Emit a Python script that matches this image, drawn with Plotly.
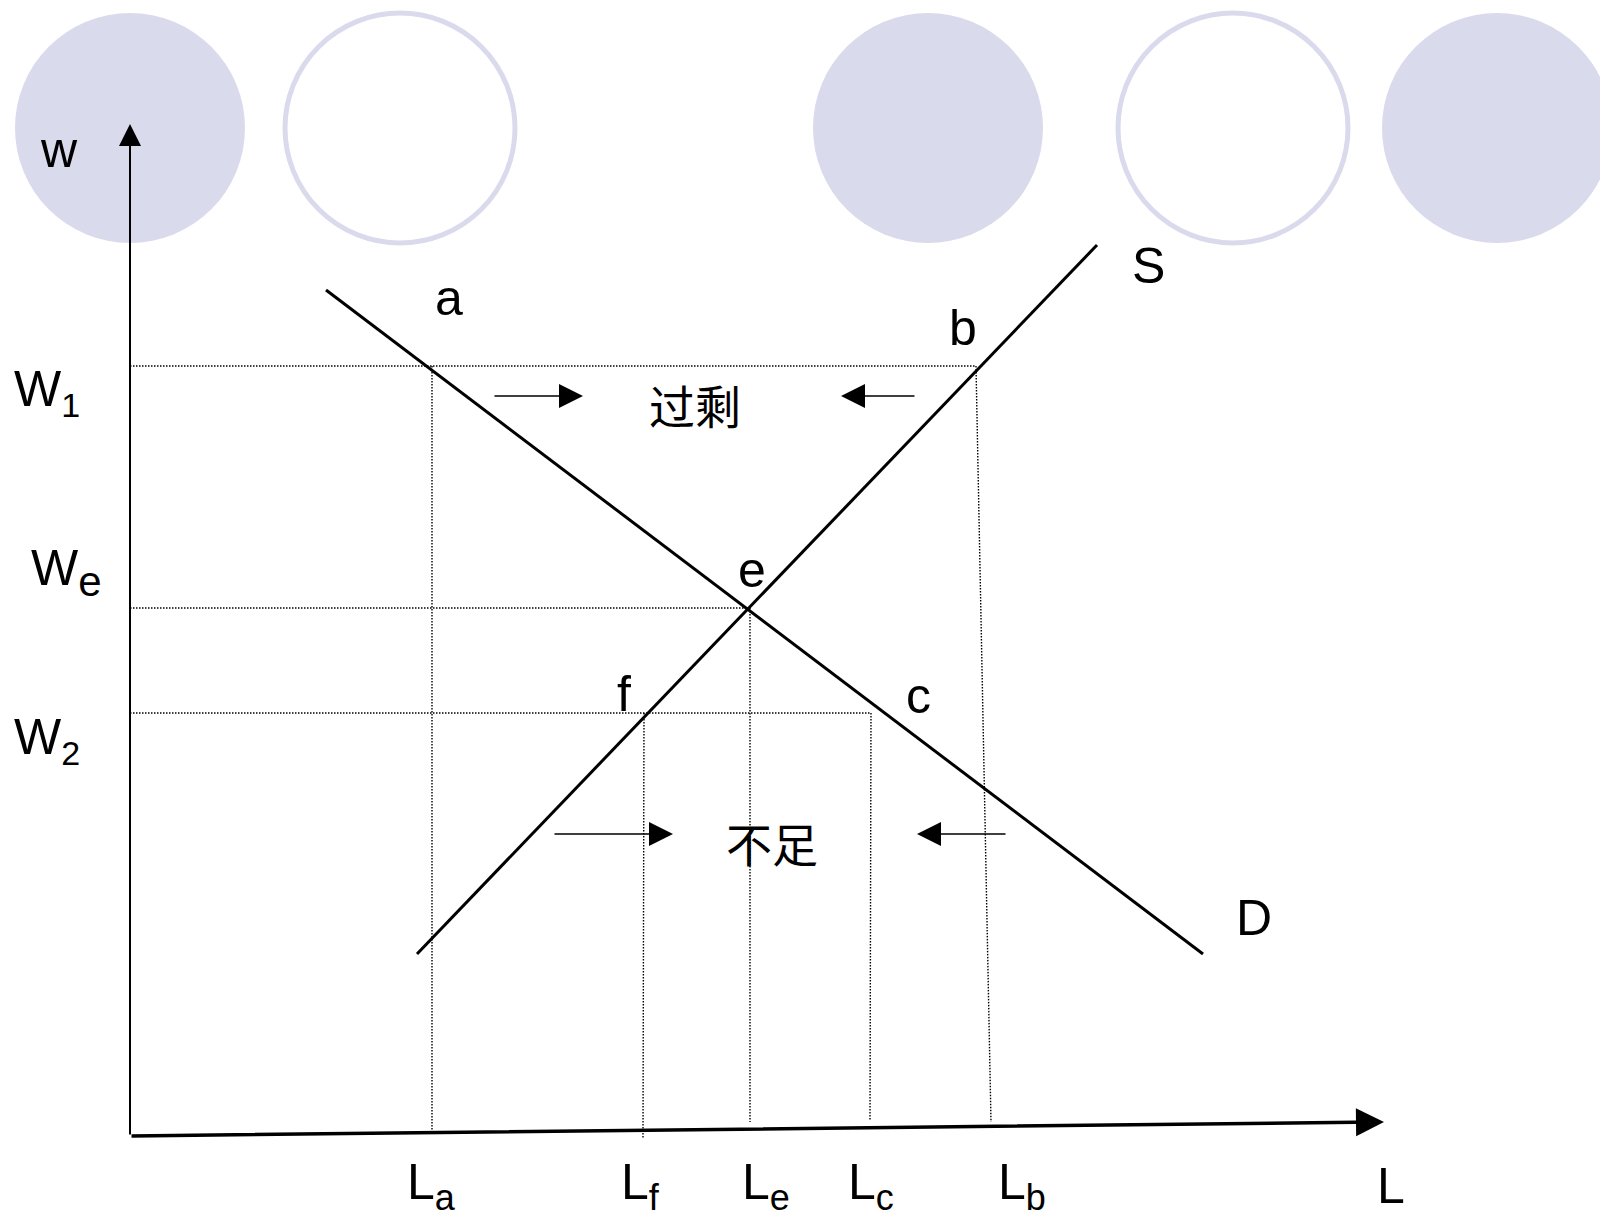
import plotly.graph_objects as go

W, H = 1608, 1224
PAGE_PAD = 8  # default body margin of the html page

# decorative circles across the top: (centre x, centre y, filled?)
circle_x = [130, 400, 928, 1233, 1497]
circle_y = [128, 128, 128, 128, 128]
circle_filled = [True, False, True, False, True]
circle_r = 115

# curves (pixel-space schematic, y grows downward)
demand_L = [326, 1203]
demand_w = [290, 954]
supply_L = [417, 1097]
supply_w = [954, 245]

# wage levels and the quantities
wage_names = ["W", "W", "W"]
wage_subs = ["1", "e", "2"]
wage_sub_size = [34, 42, 34]
wage_y = [366, 608, 713]
wage_end_x = [976, 750, 871]
wage_label_x = [13, 30, 13]
wage_label_y = [392, 572, 740]

qty_subs = ["a", "f", "e", "c", "b"]
qty_top_x = [432, 644, 750, 871, 976]
qty_top_y = [366, 713, 608, 713, 366]
qty_bot_x = [432, 643, 750, 870, 991]
qty_bot_y = [1134, 1138, 1122, 1120, 1122]
qty_label_x = [406, 620, 741, 847, 997]

# point labels
point_names = ["a", "b", "e", "f", "c", "S", "D"]
point_x = [449, 963, 752, 624, 918, 1148, 1254]
point_y = [298, 328, 570, 694, 696, 266, 918]

# axes (origin, ends)
origin = (130, 1136)
y_axis_tip = (130, 124)
x_axis_tip = (1384, 1122)

# small direction arrows: (tail x, tip x, y)
arrows = [(493, 583, 396), (916, 841, 396), (553, 673, 834), (1007, 917, 834)]

circle_col = "#DADAED"
font_lat = "Liberation Sans, Arial, sans-serif"
font_cjk = "Noto Sans CJK SC, sans-serif"

fig = go.Figure()

shapes = []
for cx, cy, filled in zip(circle_x, circle_y, circle_filled):
    shapes.append(dict(
        type="circle", xref="x", yref="y", layer="below",
        x0=cx - circle_r, x1=cx + circle_r, y0=cy - circle_r, y1=cy + circle_r,
        fillcolor=circle_col if filled else "white",
        line=dict(color=circle_col, width=0 if filled else 5),
    ))

dotted = dict(color="black", width=1.4, dash="1.5px,1.5px")

# dotted guide lines
for yv, xe in zip(wage_y, wage_end_x):
    fig.add_trace(go.Scatter(x=[origin[0], xe], y=[yv, yv], mode="lines",
                             line=dotted, hoverinfo="skip"))
for x0, y0, x1, y1 in zip(qty_top_x, qty_top_y, qty_bot_x, qty_bot_y):
    fig.add_trace(go.Scatter(x=[x0, x1], y=[y0, y1], mode="lines",
                             line=dotted, hoverinfo="skip"))

# demand and supply
fig.add_trace(go.Scatter(x=demand_L, y=demand_w, mode="lines",
                         line=dict(color="black", width=3), hoverinfo="skip"))
fig.add_trace(go.Scatter(x=supply_L, y=supply_w, mode="lines",
                         line=dict(color="black", width=3), hoverinfo="skip"))

annotations = []
# axes with arrowheads
annotations.append(dict(x=y_axis_tip[0], y=y_axis_tip[1], ax=origin[0], ay=origin[1],
                        xref="x", yref="y", axref="x", ayref="y", text="",
                        showarrow=True, arrowhead=2, arrowsize=2.2, arrowwidth=2,
                        arrowcolor="black", standoff=0))
annotations.append(dict(x=x_axis_tip[0], y=x_axis_tip[1], ax=origin[0], ay=origin[1],
                        xref="x", yref="y", axref="x", ayref="y", text="",
                        showarrow=True, arrowhead=2, arrowsize=1.6, arrowwidth=3.5,
                        arrowcolor="black", standoff=0))
for tail, tip, yv in arrows:
    annotations.append(dict(x=tip, y=yv, ax=tail, ay=yv,
                            xref="x", yref="y", axref="x", ayref="y", text="",
                            showarrow=True, arrowhead=2, arrowsize=3, arrowwidth=1.6,
                            arrowcolor="black", standoff=0))

def label(txt, x, y, size=50, family=font_lat, xanchor="center"):
    annotations.append(dict(x=x, y=y, xref="x", yref="y", text=txt, showarrow=False,
                            font=dict(family=family, size=size, color="black"),
                            xanchor=xanchor, yanchor="middle", borderpad=0))

def sub(base, s, size):
    return f"{base}<sub><span style='font-size:{size}px'>{s}</span></sub>"

label("w", 59, 150)
label("L", 1376, 1186, xanchor="left")
for n, s, ss, x, y in zip(wage_names, wage_subs, wage_sub_size, wage_label_x, wage_label_y):
    label(sub(n, s, ss), x, y, xanchor="left")
for s, x in zip(qty_subs, qty_label_x):
    label(sub("L", s, 36), x, 1186, xanchor="left")
for n, x, y in zip(point_names, point_x, point_y):
    label(n, x, y)
label("过剩", 695, 404, size=46, family=font_cjk)
label("不足", 772, 842, size=46, family=font_cjk)

# the page adds an 8px body margin, so shrink the figure and shift the ranges
fig.update_layout(
    width=W - 2 * PAGE_PAD, height=H - 2 * PAGE_PAD,
    margin=dict(l=0, r=0, t=0, b=0),
    paper_bgcolor="white", plot_bgcolor="white",
    showlegend=False,
    xaxis=dict(range=[PAGE_PAD, W - PAGE_PAD], visible=False, fixedrange=True),
    yaxis=dict(range=[H - PAGE_PAD, PAGE_PAD], visible=False, fixedrange=True),
    shapes=shapes, annotations=annotations,
)

fig.write_html("out.html")
